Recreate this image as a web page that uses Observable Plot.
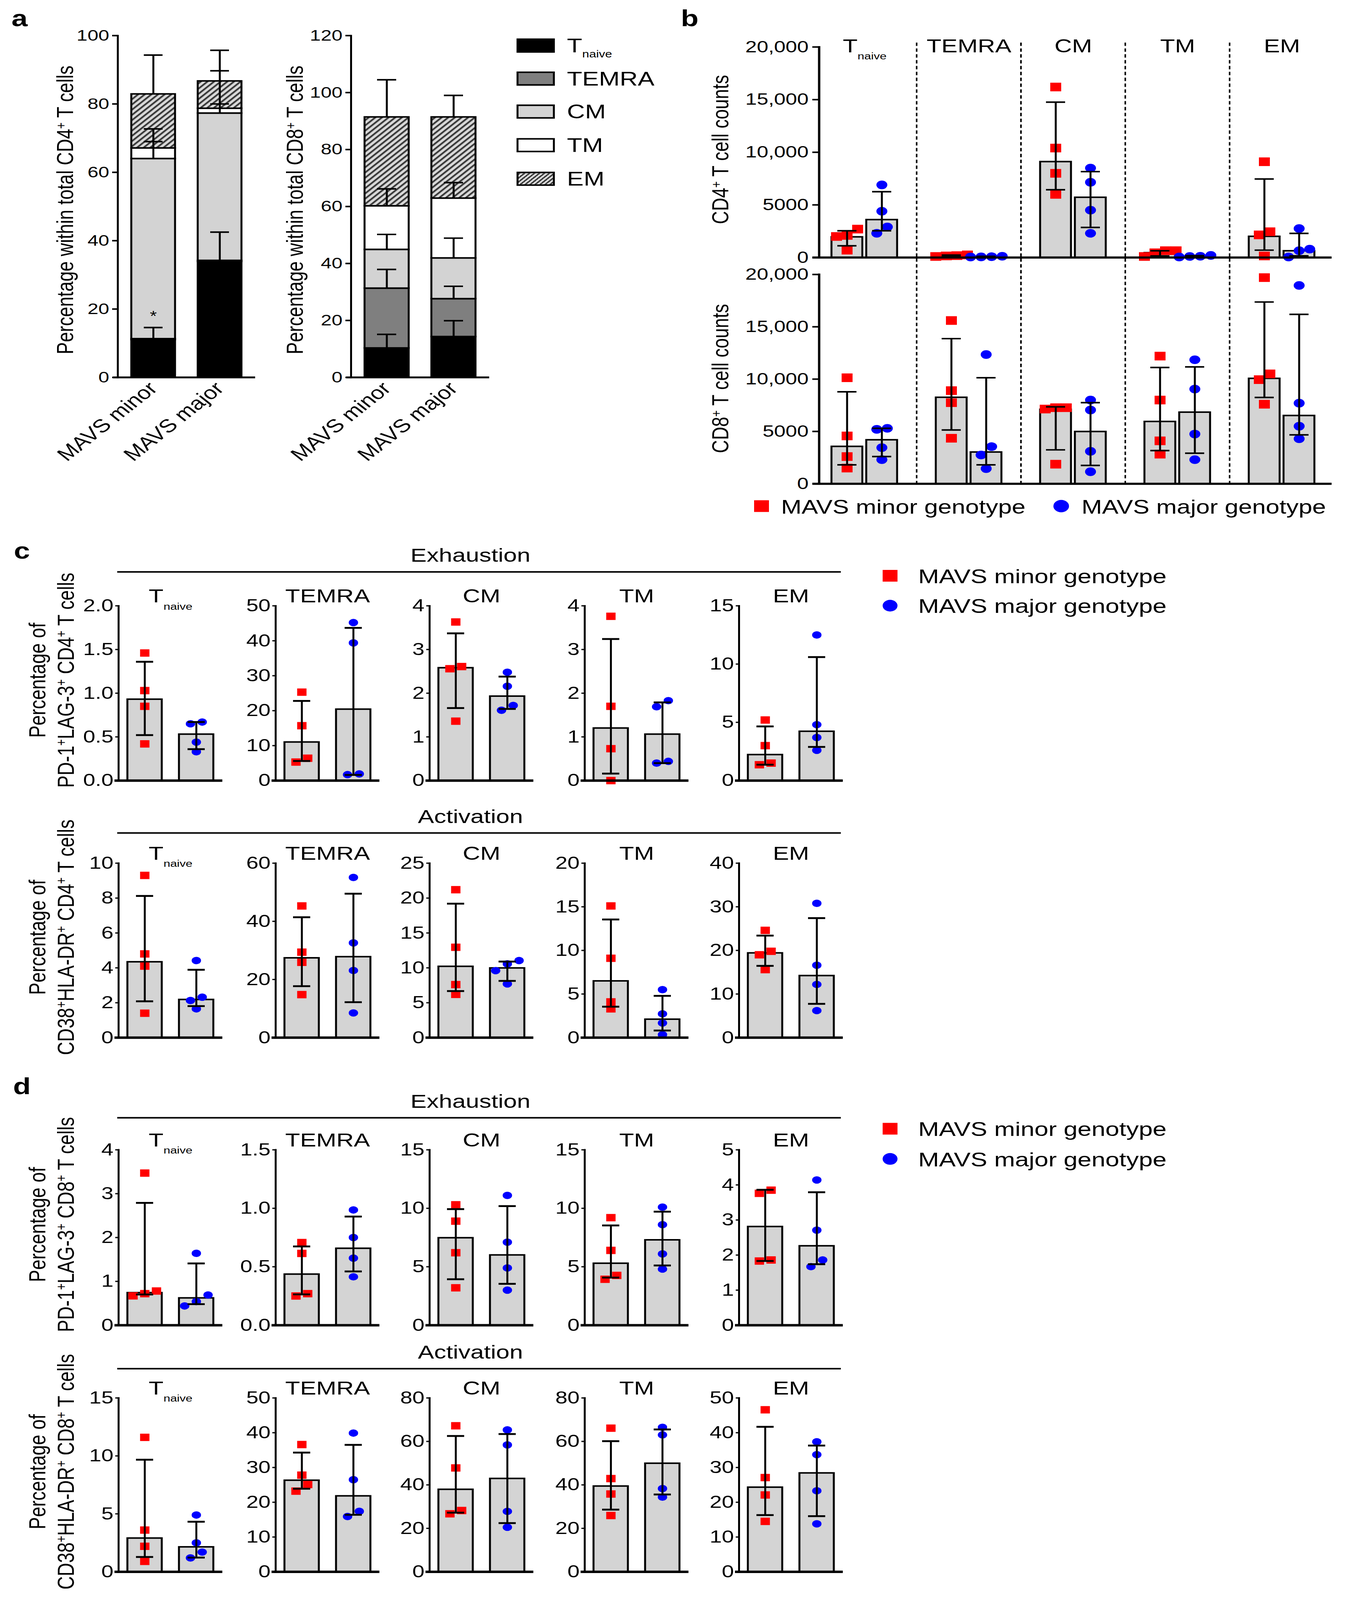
<!DOCTYPE html>
<html>
<head>
<meta charset="utf-8">
<script src="https://cdn.jsdelivr.net/npm/d3@7"></script>
<script src="https://cdn.jsdelivr.net/npm/@observablehq/plot@0.6"></script>
<style>
html, body { margin:0; padding:0; background:#fff; overflow:hidden; }
#page { position:relative; width:3450px; height:5191px; overflow:hidden; background:#fff; color:#000;
  font-family:"Liberation Sans", Arial, Helvetica, sans-serif; }
#page sup { font-size:0.6em; position:relative; top:-0.55em; vertical-align:baseline; line-height:0; }
#page sub { font-size:0.5em; position:relative; top:0.5em; vertical-align:baseline; line-height:0; }
</style>
</head>
<body>
<svg width="0" height="0" style="position:absolute">
  <defs>
    <pattern id="hatch" patternUnits="userSpaceOnUse" width="12" height="12" patternTransform="rotate(45)">
      <rect width="12" height="12" fill="#d9d9d9"></rect>
      <rect width="5" height="12" fill="#3a3a3a"></rect>
    </pattern>
  </defs>
</svg>
<div id="page"></div>
<script>
// ================= DATA =================
const cellTypes = ["Tnaive", "TEMRA", "CM", "TM", "EM"];
const genotypes = ["MAVS minor", "MAVS major"];
const legendLabels = ["MAVS minor genotype", "MAVS major genotype"];

// ---- panel a : stacked percentages (segment heights, upper error) ----
const pctTicksCD4 = [0, 20, 40, 60, 80, 100];
const pctTicksCD8 = [0, 20, 40, 60, 80, 100, 120];
const cd4MinorPct = [11.0, 0.3, 52.7, 3.1, 15.8];
const cd4MinorErr = [3.6, 0, 5.0, 5.6, 11.4];
const cd4MajorPct = [33.9, 0.3, 43.1, 1.4, 8.0];
const cd4MajorErr = [8.6, 0, 2.7, 11.0, 9.0];
const cd8MinorPct = [10.3, 21.0, 13.6, 15.3, 31.2];
const cd8MinorErr = [4.8, 6.6, 5.3, 6.0, 13.1];
const cd8MajorPct = [14.3, 13.3, 14.3, 21.0, 28.5];
const cd8MajorErr = [5.6, 4.4, 7.0, 5.5, 7.6];
const cd4Stars = [{geno: "MAVS minor", type: "Tnaive"}];

// ---- panel b : cell counts ----
const countTicks = [0, 5000, 10000, 15000, 20000];
const cd4CountMinorBar = [1950, 160, 9100, 450, 2000];
const cd4CountMinorLo  = [1110, 110, 6440, 150, 700];
const cd4CountMinorHi  = [2540, 230, 14760, 640, 7460];
const cd4CountMinorPts = [[2700, 2100, 2000, 700], [150, 250, 100, 180], [16200, 10400, 8000, 6000], [100, 650, 450, 650], [9100, 2450, 2150, 150]];
const cd4CountMajorBar = [3590, 70, 5710, 110, 630];
const cd4CountMajorLo  = [2540, 40, 2860, 60, 160];
const cd4CountMajorHi  = [6250, 110, 8160, 180, 2290];
const cd4CountMajorPts = [[6900, 4400, 2900, 2300], [50, 120, 80, 60], [8500, 7150, 4500, 2300], [50, 200, 120, 100], [2750, 800, 650, 50]];
const cd8CountMinorBar = [3560, 8250, 7100, 5940, 10060];
const cd8CountMinorLo  = [1810, 5140, 3240, 3170, 8250];
const cd8CountMinorHi  = [8790, 13870, 7350, 11110, 17370];
const cd8CountMinorPts = [[10130, 4570, 2600, 1500], [15600, 8900, 7750, 4350], [7270, 7140, 7270, 1870], [12200, 8000, 4100, 2830], [19700, 10500, 9950, 7600]];
const cd8CountMajorBar = [4190, 3020, 4980, 6830, 6510];
const cd8CountMajorLo  = [2600, 1810, 1750, 2920, 4670];
const cd8CountMajorHi  = [5300, 10130, 7750, 11170, 16190];
const cd8CountMajorPts = [[5200, 5300, 3450, 2300], [12350, 3550, 2750, 1450], [8000, 7050, 3100, 1150], [11850, 9050, 4750, 2300], [18950, 7700, 5500, 4300]];

// ---- panel c : CD4 exhaustion ----
const cExhMax = [2, 50, 4, 4, 15];
const cExhTicks = [[0, 0.5, 1, 1.5, 2], [0, 10, 20, 30, 40, 50], [0, 1, 2, 3, 4], [0, 1, 2, 3, 4], [0, 5, 10, 15]];
const cExhFmt = [".1f", "d", "d", "d", "d"];
const cExhMinorBar = [0.93, 11.0, 2.58, 1.20, 2.22];
const cExhMinorLo  = [0.52, 5.6, 1.66, 0.16, 1.36];
const cExhMinorHi  = [1.36, 22.8, 3.37, 3.24, 4.65];
const cExhMinorPts = [[1.46, 1.03, 0.85, 0.42], [25.3, 15.7, 5.3, 6.4], [3.63, 2.61, 2.56, 1.36], [3.76, 1.70, 0.73, 0.0], [5.2, 3.0, 1.36, 1.5]];
const cExhMajorBar = [0.53, 20.4, 1.93, 1.06, 4.22];
const cExhMajorLo  = [0.36, 1.6, 1.64, 0.40, 2.89];
const cExhMajorHi  = [0.67, 43.7, 2.38, 1.79, 10.6];
const cExhMajorPts = [[0.65, 0.67, 0.44, 0.33], [45.2, 39.4, 1.7, 1.9], [2.48, 2.16, 1.61, 1.72], [1.69, 1.83, 0.40, 0.44], [12.5, 4.8, 3.7, 2.6]];

// ---- panel c : CD4 activation ----
const cActMax = [10, 60, 25, 20, 40];
const cActTicks = [[0, 2, 4, 6, 8, 10], [0, 20, 40, 60], [0, 5, 10, 15, 20, 25], [0, 5, 10, 15, 20], [0, 10, 20, 30, 40]];
const cActFmt = ["d", "d", "d", "d", "d"];
const cActMinorBar = [4.34, 27.4, 10.2, 6.49, 19.4];
const cActMinorLo  = [2.08, 17.7, 6.68, 3.55, 16.45];
const cActMinorHi  = [8.12, 41.4, 19.2, 13.55, 23.4];
const cActMinorPts = [[9.3, 4.8, 4.1, 1.4], [45.3, 29.4, 25.9, 14.8], [21.2, 12.95, 7.6, 6.2], [15.1, 9.1, 4.1, 3.3], [24.6, 19.8, 19.0, 15.6]];
const cActMajorBar = [2.18, 27.8, 9.97, 2.10, 14.2];
const cActMajorLo  = [1.81, 12.2, 8.13, 0.82, 7.75];
const cActMajorHi  = [3.89, 49.5, 10.9, 4.79, 27.4];
const cActMajorPts = [[4.42, 2.32, 2.13, 1.65], [55.1, 32.6, 23.1, 8.5], [10.57, 11.05, 9.6, 7.7], [5.5, 2.73, 1.68, 0.34], [30.8, 16.6, 12.2, 6.2]];

// ---- panel d : CD8 exhaustion ----
const dExhMax = [4, 1.5, 15, 15, 5];
const dExhTicks = [[0, 1, 2, 3, 4], [0, 0.5, 1, 1.5], [0, 5, 10, 15], [0, 5, 10, 15], [0, 1, 2, 3, 4, 5]];
const dExhFmt = ["d", ".1f", "d", "d", "d"];
const dExhMinorBar = [0.74, 0.436, 7.47, 5.29, 2.81];
const dExhMinorLo  = [0.70, 0.264, 3.93, 4.07, 1.83];
const dExhMinorHi  = [2.79, 0.674, 9.93, 8.53, 3.86];
const dExhMinorPts = [[3.47, 0.78, 0.72, 0.67], [0.707, 0.614, 0.27, 0.25], [10.3, 8.9, 6.2, 3.2], [9.2, 6.4, 4.26, 3.93], [3.85, 3.76, 1.86, 1.83]];
const dExhMajorBar = [0.62, 0.657, 6.0, 7.29, 2.26];
const dExhMajorLo  = [0.48, 0.46, 3.54, 5.11, 1.74];
const dExhMajorHi  = [1.41, 0.929, 10.19, 9.71, 3.79];
const dExhMajorPts = [[1.64, 0.69, 0.54, 0.44], [0.986, 0.75, 0.574, 0.414], [11.1, 7.1, 4.9, 3.0], [10.1, 8.6, 6.1, 4.8], [4.14, 2.71, 1.86, 1.67]];

// ---- panel d : CD8 activation ----
const dActMax = [15, 50, 80, 80, 50];
const dActTicks = [[0, 5, 10, 15], [0, 10, 20, 30, 40, 50], [0, 20, 40, 60, 80], [0, 20, 40, 60, 80], [0, 10, 20, 30, 40, 50]];
const dActFmt = ["d", "d", "d", "d", "d"];
const dActMinorBar = [2.9, 26.3, 37.9, 39.4, 24.3];
const dActMinorLo  = [1.28, 23.9, 27.2, 28.6, 16.3];
const dActMinorHi  = [9.67, 34.3, 62.5, 60.1, 41.7];
const dActMinorPts = [[11.6, 3.6, 2.2, 0.9], [36.6, 27.8, 25.1, 23.2], [67.2, 47.8, 28.2, 26.7], [66.1, 42.9, 35.8, 25.9], [46.6, 27.1, 22.1, 14.5]];
const dActMajorBar = [2.14, 21.8, 42.9, 49.9, 28.4];
const dActMajorLo  = [1.23, 16.4, 22.4, 35.6, 16.0];
const dActMajorHi  = [4.32, 36.5, 63.4, 65.5, 36.3];
const dActMajorPts = [[4.9, 2.5, 1.7, 1.2], [39.9, 26.5, 17.4, 15.9], [65.3, 58.4, 27.8, 20.5], [66.5, 63.0, 38.3, 34.4], [37.4, 33.7, 23.3, 13.8]];

// ================= HELPERS =================
const FONT = '"Liberation Sans", Arial, Helvetica, sans-serif';
const SVGNS = "http://www.w3.org/2000/svg";
const PAGE_W = 3450, PAGE_H = 5191;
const page = document.getElementById("page");

function fixSubscripts(svg) {
  svg.querySelectorAll("text").forEach(t => {
    if (t.textContent === "Tnaive") {
      t.textContent = "T";
      const s = document.createElementNS(SVGNS, "tspan");
      s.setAttribute("font-size", "0.5em");
      s.setAttribute("dy", "0.75em");
      s.textContent = "naive";
      t.appendChild(s);
    }
  });
}

function place(opts) {
  const {L, T, R, B, ml, mt, mr, mb, ...rest} = opts;
  const w = R - L + ml + mr, h = B - T + mt + mb;
  const svg = Plot.plot({
    width: w, height: h,
    marginLeft: ml, marginTop: mt, marginRight: mr, marginBottom: mb,
    style: {fontFamily: FONT, background: "transparent", overflow: "visible", color: "#000"},
    ...rest
  });
  svg.style.position = "absolute";
  svg.style.left = (L - ml) + "px";
  svg.style.top = (T - mt) + "px";
  svg.style.maxWidth = "none";
  svg.style.width = w + "px";
  svg.style.height = h + "px";
  svg.style.background = "transparent";
  svg.style.overflow = "visible";
  fixSubscripts(svg);
  page.appendChild(svg);
  return svg;
}

function div(html, style) {
  const d = document.createElement("div");
  d.innerHTML = html;
  Object.assign(d.style, {position: "absolute", whiteSpace: "nowrap", fontFamily: FONT}, style);
  page.appendChild(d);
  return d;
}
function textAt(html, x, y, size, anchor = "start", extra = {}) {
  const tx = anchor === "middle" ? "-50%" : anchor === "end" ? "-100%" : "0";
  return div(html, {left: x + "px", top: y + "px", fontSize: size + "px", lineHeight: "1",
    transform: `translate(${tx}, -50%)`, ...extra});
}
function vText(html, cx, cy, size) {
  return div(html, {left: cx + "px", top: cy + "px", fontSize: size + "px", lineHeight: "1.22",
    textAlign: "center", transform: "translate(-50%, -50%) rotate(-90deg)"});
}
function box(x, y, w, h, style) {
  return div("", {left: x + "px", top: y + "px", width: w + "px", height: h + "px", boxSizing: "border-box", ...style});
}

// point dodge: points closer than thr pixels are spread horizontally
function dodge(groups, pxPerUnit, thr, step, keyField) {
  const out = [];
  groups.forEach(g => {
    const sorted = g.pts.slice().sort((a, b) => a - b);
    let cl = [];
    const flush = () => {
      cl.forEach((v, j) => out.push({x: g[keyField], geno: g.geno, v, dx: Math.round((j - (cl.length - 1) / 2) * step)}));
      cl = [];
    };
    sorted.forEach(v => { if (cl.length && (v - cl[cl.length - 1]) * pxPerUnit >= thr) flush(); cl.push(v); });
    flush();
  });
  return out;
}
function dotMarks(pts, style) {
  return Array.from(d3.group(pts, d => d.dx), ([dx, arr]) => Plot.dot(arr, {x: "x", y: "v", dx, ...style}));
}
const minorDot = {symbol: "square", fill: "#ff0000", stroke: "none"};
const majorDot = {symbol: "circle", fill: "#0000ff", stroke: "none"};

// ================= PANEL LETTERS =================
textAt("a", 50, 60, 74, "middle", {fontWeight: "bold"});
textAt("b", 1765, 60, 74, "middle", {fontWeight: "bold"});
textAt("c", 56, 1787, 74, "middle", {fontWeight: "bold"});
textAt("d", 56, 3525, 74, "middle", {fontWeight: "bold"});

// ================= PANEL a =================
const segColors = ["#000000", "#7f7f7f", "#d3d3d3", "#ffffff", "url(#hatch)"];
function stackPanel(L, R, yMax, ticks, minorPct, minorErr, majorPct, majorErr, stars) {
  const rows = [];
  [[genotypes[0], minorPct, minorErr], [genotypes[1], majorPct, majorErr]].forEach(([g, pct, err]) => {
    let top = 0;
    cellTypes.forEach((c, i) => {
      top += pct[i];
      rows.push({geno: g, type: c, value: pct[i], top, cap: top + err[i], err: err[i]});
    });
  });
  const errRows = rows.filter(d => d.err > 0);
  const starRows = rows.filter(d => stars.some(s => s.geno === d.geno && s.type === d.type));
  place({L, R, T: 115, B: 1224, ml: 130, mt: 20, mr: 20, mb: 330,
    x: {domain: genotypes, paddingInner: 0.34, paddingOuter: 0.2},
    y: {domain: [0, yMax]},
    color: {type: "ordinal", domain: cellTypes, range: segColors},
    marks: [
      Plot.barY(rows, {x: "geno", y: "value", fill: "type", stroke: "#000", strokeWidth: 5}),
      Plot.ruleX(errRows, {x: "geno", y1: "top", y2: "cap", stroke: "#000", strokeWidth: 5}),
      Plot.tickY(errRows, {x: "geno", y: "cap", stroke: "#000", strokeWidth: 5, insetLeft: 32, insetRight: 32}),
      Plot.text(starRows, {x: "geno", y: "cap", text: () => "*", dy: -36, fontSize: 46}),
      Plot.axisY({ticks, tickSize: 14, tickPadding: 8, fontSize: 50, strokeWidth: 5, label: null}),
      Plot.axisX({tickRotate: -45, tickSize: 0, tickPadding: 26, fontSize: 60, label: null}),
      Plot.frame({anchor: "left", strokeWidth: 5}),
      Plot.ruleY([0], {strokeWidth: 6, insetLeft: -12})
    ]});
}
stackPanel(301, 653, 100, pctTicksCD4, cd4MinorPct, cd4MinorErr, cd4MajorPct, cd4MajorErr, cd4Stars);
stackPanel(898, 1252, 120, pctTicksCD8, cd8MinorPct, cd8MinorErr, cd8MajorPct, cd8MajorErr, []);
vText("Percentage within total CD4<sup>+</sup> T cells", 168, 681, 59);
vText("Percentage within total CD8<sup>+</sup> T cells", 756, 681, 59);

// legend a
const legendSwatch = ["#000000", "#7f7f7f", "#d3d3d3", "#ffffff",
  "repeating-linear-gradient(135deg, #3a3a3a 0 4px, #d9d9d9 4px 9px)"];
const legendNames = ["T<sub>naive</sub>", "TEMRA", "CM", "TM", "EM"];
[148, 255, 362, 471, 580].forEach((y, i) => {
  box(1322, y - 23, 98, 46, {border: "5px solid #000", background: legendSwatch[i]});
  textAt(legendNames[i], 1451, y, 64);
});

// ================= PANEL b =================
const bKeys = cellTypes.flatMap((c, i) => i < cellTypes.length - 1 ? [c + "|0", c + "|1", "gap" + i] : [c + "|0", c + "|1"]);
const gapKeys = bKeys.filter(k => k.startsWith("gap"));
const countFmt = d => d >= 10000 ? d3.format(",")(d) : String(d);
function countPanel(T, B, mn, mj, headers) {
  const L = 2096, R = 3408, inset = 12, pIn = 0.111, pOut = 0.289;
  const groups = [];
  cellTypes.forEach((c, i) => {
    groups.push({key: c + "|0", geno: genotypes[0], bar: mn.bar[i], lo: mn.lo[i], hi: mn.hi[i], pts: mn.pts[i]});
    groups.push({key: c + "|1", geno: genotypes[1], bar: mj.bar[i], lo: mj.lo[i], hi: mj.hi[i], pts: mj.pts[i]});
  });
  const pts = dodge(groups, (B - T) / 20000, 28, 27, "key");
  const step = (R - L - inset) / (bKeys.length - pIn + 2 * pOut);
  const marks = [
    Plot.ruleX(gapKeys, {stroke: "#000", strokeWidth: 4, strokeDasharray: "11,8", insetTop: headers ? -14 : -52}),
    Plot.barY(groups, {x: "key", y: "bar", fill: "#d4d4d4", stroke: "#000", strokeWidth: 5}),
    ...dotMarks(pts.filter(p => p.geno === genotypes[0]), {...minorDot, r: 15.8}),
    ...dotMarks(pts.filter(p => p.geno === genotypes[1]), {...majorDot, r: 14}),
    Plot.ruleX(groups, {x: "key", y1: "lo", y2: "hi", stroke: "#000", strokeWidth: 5}),
    Plot.tickY(groups, {x: "key", y: "lo", stroke: "#000", strokeWidth: 5, insetLeft: 15, insetRight: 15}),
    Plot.tickY(groups, {x: "key", y: "hi", stroke: "#000", strokeWidth: 5, insetLeft: 15, insetRight: 15}),
    Plot.axisY({ticks: countTicks, tickFormat: countFmt, tickSize: 17, tickPadding: 10, fontSize: 53, strokeWidth: 5, label: null}),
    Plot.frame({anchor: "left", strokeWidth: 6}),
    Plot.ruleY([0], {strokeWidth: 7, insetLeft: -17})
  ];
  if (headers) marks.push(Plot.text(cellTypes, {x: d => d + "|0", dx: step / 2, frameAnchor: "top", dy: -27, fontSize: 62}));
  place({L, R, T, B, ml: 190, mt: 60, mr: 10, mb: 10,
    x: {domain: bKeys, paddingInner: pIn, paddingOuter: pOut, insetRight: inset, axis: null},
    y: {domain: [0, 20000]},
    marks});
}
countPanel(152, 835,
  {bar: cd4CountMinorBar, lo: cd4CountMinorLo, hi: cd4CountMinorHi, pts: cd4CountMinorPts},
  {bar: cd4CountMajorBar, lo: cd4CountMajorLo, hi: cd4CountMajorHi, pts: cd4CountMajorPts}, true);
countPanel(890, 1569,
  {bar: cd8CountMinorBar, lo: cd8CountMinorLo, hi: cd8CountMinorHi, pts: cd8CountMinorPts},
  {bar: cd8CountMajorBar, lo: cd8CountMajorLo, hi: cd8CountMajorHi, pts: cd8CountMajorPts}, false);
vText("CD4<sup>+</sup> T cell counts", 1845, 485, 59);
vText("CD8<sup>+</sup> T cell counts", 1845, 1228, 59);
// legend b
box(1949 - 19, 1642 - 19, 38, 38, {background: "#ff0000"});
textAt(legendLabels[0], 1999, 1645, 63);
box(2716 - 20, 1642 - 20, 40, 40, {background: "#0000ff", borderRadius: "50%"});
textAt(legendLabels[1], 2768, 1645, 63);

// ================= PANELS c, d =================
const colX = [303, 705, 1099, 1496, 1891];
const subW = 266;
function barRow(T, B, maxes, ticks, fmts, mn, mj) {
  cellTypes.forEach((c, i) => {
    const A = colX[i];
    const groups = [
      {geno: genotypes[0], bar: mn.bar[i], lo: mn.lo[i], hi: mn.hi[i], pts: mn.pts[i]},
      {geno: genotypes[1], bar: mj.bar[i], lo: mj.lo[i], hi: mj.hi[i], pts: mj.pts[i]}
    ];
    const pts = dodge(groups, (B - T) / maxes[i], 22, 30, "geno");
    const fmt = fmts[i] === "d" ? (d => String(d)) : d3.format(fmts[i]);
    place({L: A, R: A + subW, T, B, ml: 125, mt: 110, mr: 16, mb: 16,
      x: {domain: genotypes, paddingInner: 0.333, paddingOuter: 0.174, axis: null},
      y: {domain: [0, maxes[i]]},
      marks: [
        Plot.barY(groups, {x: "geno", y: "bar", fill: "#d4d4d4", stroke: "#000", strokeWidth: 5}),
        ...dotMarks(pts.filter(p => p.geno === genotypes[0]), {...minorDot, r: 13.5}),
        ...dotMarks(pts.filter(p => p.geno === genotypes[1]), {...majorDot, r: 12}),
        Plot.ruleX(groups, {x: "geno", y1: "lo", y2: "hi", stroke: "#000", strokeWidth: 5}),
        Plot.tickY(groups, {x: "geno", y: "lo", stroke: "#000", strokeWidth: 6, insetLeft: 22, insetRight: 22}),
        Plot.tickY(groups, {x: "geno", y: "hi", stroke: "#000", strokeWidth: 6, insetLeft: 22, insetRight: 22}),
        Plot.axisY({ticks: ticks[i], tickFormat: fmt, tickSize: 8, tickPadding: 5, fontSize: 56, strokeWidth: 4, label: null}),
        Plot.frame({anchor: "left", strokeWidth: 5}),
        Plot.ruleY([0], {strokeWidth: 8, insetLeft: -10}),
        Plot.text([c], {frameAnchor: "top", dy: -55, fontSize: 62})
      ]});
  });
}
function sectionHeader(label, lineY) {
  box(300, lineY - 2.5, 1852, 5, {background: "#000"});
  textAt(label, 1204, lineY - 53, 62, "middle");
}
function genotypeLegend(y1, y2) {
  box(2278 - 19, y1 - 19, 38, 38, {background: "#ff0000"});
  textAt(legendLabels[0], 2350, y1 + 2, 64);
  box(2278 - 19, y2 - 19, 38, 38, {background: "#0000ff", borderRadius: "50%"});
  textAt(legendLabels[1], 2350, y2 + 2, 64);
}

const rowsCD = [
  {T: 1965, B: 2532, header: "Exhaustion", lineY: 1855, max: cExhMax, ticks: cExhTicks, fmt: cExhFmt,
   mn: {bar: cExhMinorBar, lo: cExhMinorLo, hi: cExhMinorHi, pts: cExhMinorPts},
   mj: {bar: cExhMajorBar, lo: cExhMajorLo, hi: cExhMajorHi, pts: cExhMajorPts},
   title: "Percentage of<br>PD-1<sup>+</sup>LAG-3<sup>+</sup> CD4<sup>+</sup> T cells"},
  {T: 2800, B: 3366, header: "Activation", lineY: 2702, max: cActMax, ticks: cActTicks, fmt: cActFmt,
   mn: {bar: cActMinorBar, lo: cActMinorLo, hi: cActMinorHi, pts: cActMinorPts},
   mj: {bar: cActMajorBar, lo: cActMajorLo, hi: cActMajorHi, pts: cActMajorPts},
   title: "Percentage of<br>CD38<sup>+</sup>HLA-DR<sup>+</sup> CD4<sup>+</sup> T cells"},
  {T: 3730, B: 4299, header: "Exhaustion", lineY: 3626, max: dExhMax, ticks: dExhTicks, fmt: dExhFmt,
   mn: {bar: dExhMinorBar, lo: dExhMinorLo, hi: dExhMinorHi, pts: dExhMinorPts},
   mj: {bar: dExhMajorBar, lo: dExhMajorLo, hi: dExhMajorHi, pts: dExhMajorPts},
   title: "Percentage of<br>PD-1<sup>+</sup>LAG-3<sup>+</sup> CD8<sup>+</sup> T cells"},
  {T: 4535, B: 5099, header: "Activation", lineY: 4440, max: dActMax, ticks: dActTicks, fmt: dActFmt,
   mn: {bar: dActMinorBar, lo: dActMinorLo, hi: dActMinorHi, pts: dActMinorPts},
   mj: {bar: dActMajorBar, lo: dActMajorLo, hi: dActMajorHi, pts: dActMajorPts},
   title: "Percentage of<br>CD38<sup>+</sup>HLA-DR<sup>+</sup> CD8<sup>+</sup> T cells"}
];
rowsCD.forEach(r => {
  barRow(r.T, r.B, r.max, r.ticks, r.fmt, r.mn, r.mj);
  sectionHeader(r.header, r.lineY);
  vText(r.title, 132, (r.T + r.B) / 2 - 42, 60);
});
genotypeLegend(1868, 1965);
genotypeLegend(3662, 3760);

// fit the 3450x5191 figure into the actual viewport (the sandbox window may be shorter)
(function fitToViewport() {
  const vw = window.innerWidth || PAGE_W, vh = window.innerHeight || PAGE_H;
  const sx = vw / PAGE_W, sy = vh / PAGE_H;
  if (Math.abs(sx - 1) > 0.002 || Math.abs(sy - 1) > 0.002) {
    page.style.transformOrigin = "0 0";
    page.style.transform = `scale(${sx}, ${sy})`;
  }
})();
</script>
</body>
</html>
